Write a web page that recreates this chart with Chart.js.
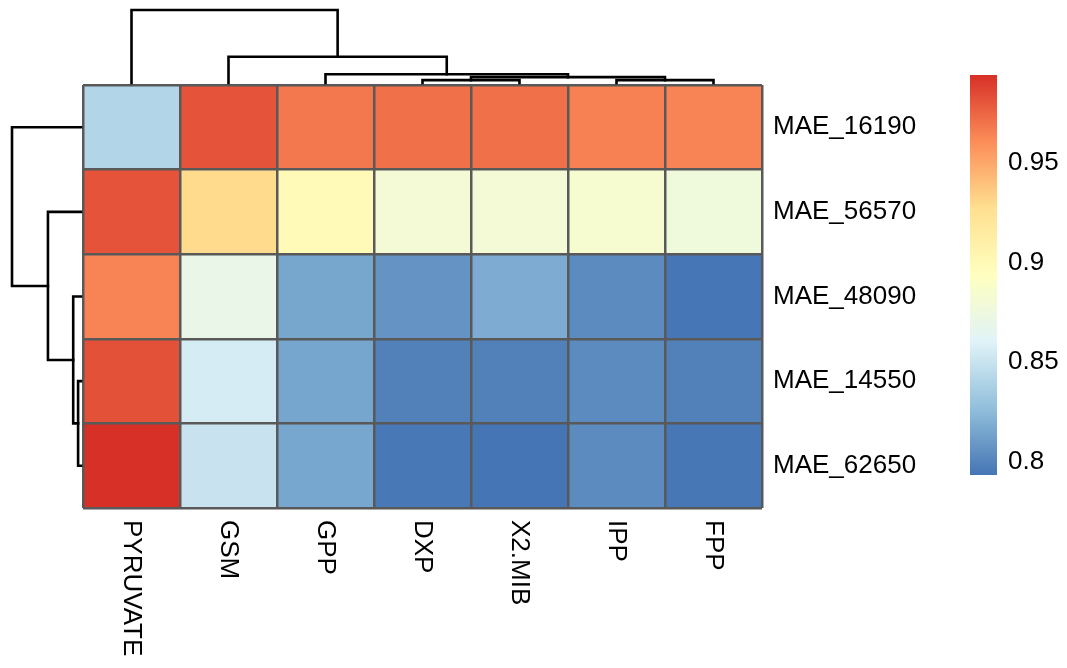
<!DOCTYPE html>
<html>
<head>
<meta charset="utf-8">
<title>Correlation heatmap</title>
<script src="https://cdn.jsdelivr.net/npm/chart.js@4.4.1/dist/chart.umd.min.js"></script>
<style>
  html, body { margin: 0; padding: 0; background: #ffffff; }
  #wrap { width: 1067px; height: 668px; }
</style>
</head>
<body>
<div id="wrap"><canvas id="heat" width="1067" height="668"></canvas></div>
<script>
// Columns (metabolites) and rows (features), in clustered order
const colLabels = ['PYRUVATE', 'GSM', 'GPP', 'DXP', 'X2.MIB', 'IPP', 'FPP'];
const rowLabels = ['MAE_16190', 'MAE_56570', 'MAE_48090', 'MAE_14550', 'MAE_62650'];

// Cell values, one array per row
const mae16190 = [0.841, 0.981, 0.968, 0.971, 0.971, 0.965, 0.964];
const mae56570 = [0.981, 0.929, 0.899, 0.881, 0.881, 0.884, 0.877];
const mae48090 = [0.964, 0.870, 0.816, 0.807, 0.818, 0.8035, 0.794];
const mae14550 = [0.982, 0.856, 0.815, 0.799, 0.799, 0.8035, 0.799];
const mae62650 = [0.994, 0.850, 0.8155, 0.7947, 0.7935, 0.8035, 0.7945];
const values = [mae16190, mae56570, mae48090, mae14550, mae62650];

// Colour-bar tick labels
const legendTicks = [0.8, 0.85, 0.9, 0.95];

// Dendrogram merges: [left, right, height]; non-negative = leaf index, negative = earlier merge (-1 is the first)
const colMerges = [
  [3, 4, 0.04],
  [5, 6, 0.04],
  [-1, -2, 0.08],
  [2, -3, 0.12],
  [1, -4, 0.36],
  [0, -5, 1.0]
];
const rowMerges = [
  [3, 4, 0.042],
  [2, -1, 0.113],
  [1, -2, 0.479],
  [0, -3, 1.0]
];

// Reversed RdYlBu palette
const palette = ['#4575B4', '#91BFDB', '#E0F3F8', '#FFFFBF', '#FEE090', '#FC8D59', '#D73027'];
const allValues = values.flat();
const vMin = Math.min(...allValues);
const vMax = Math.max(...allValues);

function hexToRgb(h) {
  return [parseInt(h.slice(1, 3), 16), parseInt(h.slice(3, 5), 16), parseInt(h.slice(5, 7), 16)];
}
const paletteRgb = palette.map(hexToRgb);

function colorFor(v) {
  let t = (v - vMin) / (vMax - vMin);
  t = Math.max(0, Math.min(1, t));
  const pos = t * (paletteRgb.length - 1);
  const i = Math.min(Math.floor(pos), paletteRgb.length - 2);
  const f = pos - i;
  const a = paletteRgb[i], b = paletteRgb[i + 1];
  const c = a.map((x, k) => Math.round(x + (b[k] - x) * f));
  return `rgb(${c[0]},${c[1]},${c[2]})`;
}

const nRows = rowLabels.length;
const FONT = '"Liberation Sans", Arial, Helvetica, sans-serif';
const gridColor = '#595959';

// One floating-bar dataset per row; each bar spans one row band on the y scale
const datasets = rowLabels.map((name, r) => ({
  label: name,
  data: values[r].map(() => [nRows - r - 1, nRows - r]),
  backgroundColor: values[r].map(v => colorFor(v)),
  borderWidth: 0,
  grouped: false,
  barPercentage: 1,
  categoryPercentage: 1
}));

// Walk a merge list and draw the tree as elbow lines
function drawTree(ctx, merges, leafPos, heightToPx, horizontal) {
  const nodes = [];
  const get = (id) => id >= 0 ? { pos: leafPos(id), h: 0 } : nodes[-id - 1];
  merges.forEach(([a, b, h]) => {
    const A = get(a), B = get(b);
    ctx.beginPath();
    if (horizontal) {
      ctx.moveTo(A.pos, heightToPx(A.h));
      ctx.lineTo(A.pos, heightToPx(h));
      ctx.lineTo(B.pos, heightToPx(h));
      ctx.lineTo(B.pos, heightToPx(B.h));
    } else {
      ctx.moveTo(heightToPx(A.h), A.pos);
      ctx.lineTo(heightToPx(h), A.pos);
      ctx.lineTo(heightToPx(h), B.pos);
      ctx.lineTo(heightToPx(B.h), B.pos);
    }
    ctx.stroke();
    nodes.push({ pos: (A.pos + B.pos) / 2, h });
  });
}

const decorations = {
  id: 'decorations',
  afterDraw(chart) {
    const ctx = chart.ctx;
    const area = chart.chartArea;
    const xs = chart.scales.x;
    const ys = chart.scales.rows;

    ctx.save();
    ctx.strokeStyle = '#000000';
    ctx.lineWidth = 2.6;
    ctx.lineCap = 'square';

    // Column dendrogram above the grid
    const topSpan = area.top - 10;
    drawTree(ctx, colMerges, i => xs.getPixelForValue(i), h => area.top - 2 - h * (topSpan - 2), true);

    // Row dendrogram left of the grid
    const leftSpan = area.left - 12;
    drawTree(ctx, rowMerges, i => ys.getPixelForValue(i), h => area.left - 2 - h * (leftSpan - 2), false);
    ctx.restore();

    // Column labels, rotated to read top to bottom
    ctx.save();
    ctx.fillStyle = '#000000';
    ctx.font = `26px ${FONT}`;
    ctx.textAlign = 'left';
    ctx.textBaseline = 'middle';
    colLabels.forEach((lab, i) => {
      ctx.save();
      ctx.translate(xs.getPixelForValue(i), area.bottom + 12);
      ctx.rotate(Math.PI / 2);
      ctx.fillText(lab, 0, 0);
      ctx.restore();
    });
    ctx.restore();

    // Colour bar
    const barLeft = 970, barWidth = 27, barTop = 75, barHeight = 400;
    const valToY = v => barTop + (vMax - v) / (vMax - vMin) * barHeight;
    ctx.save();
    const grad = ctx.createLinearGradient(0, barTop + barHeight, 0, barTop);
    palette.forEach((c, i) => grad.addColorStop(i / (palette.length - 1), c));
    ctx.fillStyle = grad;
    ctx.fillRect(barLeft, barTop, barWidth, barHeight);
    ctx.fillStyle = '#000000';
    ctx.font = `26px ${FONT}`;
    ctx.textAlign = 'left';
    ctx.textBaseline = 'middle';
    legendTicks.forEach(t => {
      ctx.fillText(String(t), barLeft + barWidth + 11, valToY(t));
    });
    ctx.restore();
  }
};

new Chart(document.getElementById('heat'), {
  type: 'bar',
  data: { labels: colLabels, datasets },
  options: {
    responsive: false,
    animation: false,
    events: [],
    layout: { padding: { left: 83, top: 85, bottom: 160, right: 145 } },
    plugins: { legend: { display: false }, tooltip: { enabled: false } },
    scales: {
      x: {
        type: 'category',
        offset: true,
        grid: { offset: true, color: gridColor, lineWidth: 2.5, drawTicks: false, z: 1 },
        border: { display: false },
        ticks: { display: false },
        afterFit(s) { s.height = 0; }
      },
      y: {
        type: 'linear',
        position: 'left',
        min: 0,
        max: nRows,
        grid: { color: gridColor, lineWidth: 2.5, drawTicks: false, z: 1 },
        border: { display: false },
        ticks: { display: false, stepSize: 1 },
        afterFit(s) { s.width = 0; }
      },
      rows: {
        type: 'category',
        labels: rowLabels,
        position: 'right',
        offset: true,
        grid: { display: false, drawTicks: false },
        border: { display: false },
        ticks: { color: '#000000', font: { family: FONT, size: 26 }, padding: 11 },
        afterFit(s) { s.width = 160; }
      }
    }
  },
  plugins: [decorations]
});
</script>
</body>
</html>
